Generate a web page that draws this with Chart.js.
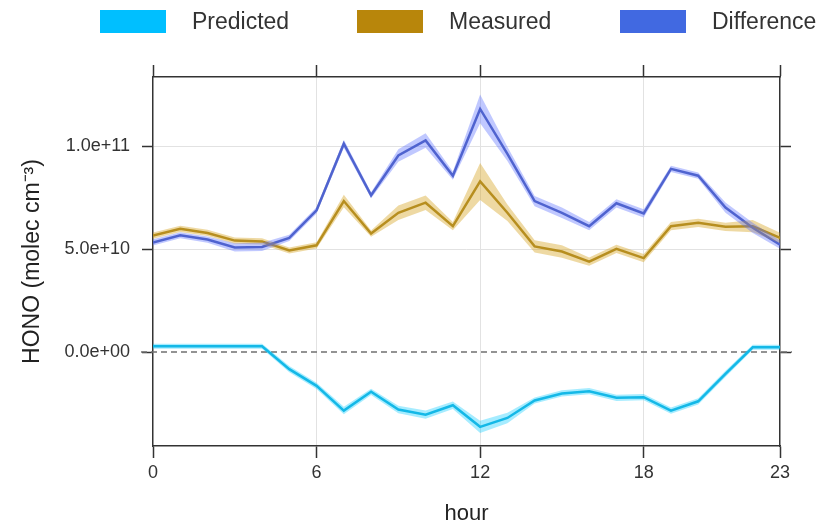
<!DOCTYPE html>
<html>
<head>
<meta charset="utf-8">
<script src="https://cdn.jsdelivr.net/npm/chart.js@4.4.1/dist/chart.umd.min.js"></script>
<style>
  html, body { margin: 0; padding: 0; background: #fff; }
  #wrap { position: relative; width: 825px; height: 524px; font-family: "Liberation Sans", Arial, sans-serif; }
  canvas { position: absolute; left: 0; top: 0; }
  .lg { position: absolute; top: 10px; height: 23px; }
  .lg .box { position: absolute; left: 0; top: 0; width: 66px; height: 23px; }
  .lg .txt { position: absolute; left: 92px; top: 0; line-height: 23px; font-size: 23px; color: #333; white-space: nowrap; }
</style>
</head>
<body>
<div id="wrap">
  <canvas id="c" width="825" height="524"></canvas>
</div>
<script>
// ---- data ----
const hours = [0,1,2,3,4,5,6,7,8,9,10,11,12,13,14,15,16,17,18,19,20,21,22,23];
const predicted  = [0.28e10,0.28e10,0.28e10,0.28e10,0.28e10,-0.83e10,-1.64e10,-2.84e10,-1.93e10,-2.79e10,-3.04e10,-2.58e10,-3.63e10,-3.20e10,-2.35e10,-2.01e10,-1.90e10,-2.22e10,-2.19e10,-2.84e10,-2.39e10,-1.06e10,0.23e10,0.23e10];
const measured   = [5.65e10,5.98e10,5.78e10,5.41e10,5.37e10,4.93e10,5.18e10,7.33e10,5.75e10,6.76e10,7.25e10,6.11e10,8.28e10,6.76e10,5.13e10,4.88e10,4.39e10,5.01e10,4.56e10,6.11e10,6.27e10,6.08e10,6.11e10,5.54e10];
const difference = [5.32e10,5.67e10,5.46e10,5.08e10,5.10e10,5.54e10,6.88e10,10.11e10,7.61e10,9.54e10,10.27e10,8.56e10,11.80e10,9.62e10,7.33e10,6.76e10,6.11e10,7.22e10,6.73e10,8.89e10,8.56e10,7.01e10,6.03e10,5.21e10];
// half-widths of the shaded intervals
const predictedCI  = [0.12e10,0.12e10,0.12e10,0.12e10,0.12e10,0.15e10,0.15e10,0.18e10,0.15e10,0.18e10,0.20e10,0.18e10,0.30e10,0.25e10,0.15e10,0.15e10,0.15e10,0.15e10,0.15e10,0.15e10,0.15e10,0.15e10,0.12e10,0.12e10];
const measuredCI   = [0.15e10,0.15e10,0.15e10,0.15e10,0.15e10,0.15e10,0.15e10,0.30e10,0.15e10,0.35e10,0.35e10,0.20e10,0.90e10,0.40e10,0.30e10,0.30e10,0.20e10,0.20e10,0.20e10,0.20e10,0.20e10,0.20e10,0.30e10,0.25e10];
const differenceCI = [0.15e10,0.15e10,0.15e10,0.20e10,0.20e10,0.15e10,0.15e10,0.20e10,0.15e10,0.30e10,0.35e10,0.20e10,0.70e10,0.35e10,0.25e10,0.25e10,0.20e10,0.20e10,0.20e10,0.15e10,0.15e10,0.25e10,0.25e10,0.20e10];
const seriesNames = ['Predicted','Measured','Difference'];
const xTicks = [0,6,12,18,23];
const yTicks = [0,5e10,1e11];
const xGridAt = [6,12,18];
const yGridAt = [5e10,1e11];
const zeroLineValue = 0;

// ---- styles ----
const legendColors = ['#00BFFF','#B8860B','#4169E1'];
const lineColors   = ['#1fb0da','#a07f1c','#4a5db2'];
const bandColors   = ['rgba(0,200,255,0.35)','rgba(215,165,35,0.42)','rgba(90,110,255,0.38)'];

// ---- legend (HTML) ----
const legendLeft = [100,357,620];
const wrap = document.getElementById('wrap');
seriesNames.forEach((n,i)=>{
  const d = document.createElement('div');
  d.className='lg'; d.style.left = legendLeft[i]+'px';
  d.innerHTML = '<div class="box" style="background:'+legendColors[i]+'"></div><div class="txt">'+n+'</div>';
  wrap.appendChild(d);
});

const pts = (vals)=>hours.map((h,i)=>({x:h,y:vals[i]}));
const band = (vals,ci,sgn)=>hours.map((h,i)=>({x:h,y:vals[i]+sgn*ci[i]}));

const vals = [predicted,measured,difference];
const cis = [predictedCI,measuredCI,differenceCI];
const drawOrder = [2,1,0];
const datasets = [];
drawOrder.forEach(k=>{
  datasets.push({label:seriesNames[k]+' upper', data:band(vals[k],cis[k],1), borderWidth:0, pointRadius:0, fill:'+1', backgroundColor:bandColors[k], tension:0});
  datasets.push({label:seriesNames[k]+' lower', data:band(vals[k],cis[k],-1), borderWidth:0, pointRadius:0, fill:false, tension:0});
});
drawOrder.forEach(k=>{
  datasets.push({label:seriesNames[k], data:pts(vals[k]), borderColor:lineColors[k], borderWidth:2.5, pointRadius:0, fill:false, tension:0});
});

const FONT = '"Liberation Sans", Arial, sans-serif';
const fmtExp = v=>{
  const s = Number(v).toExponential(1);
  const [m,e] = s.split('e');
  const sign = e[0];
  const digits = e.slice(1).padStart(2,'0');
  return m+'e'+sign+digits;
};

const zeroLine = {
  id:'zeroLine',
  beforeDatasetsDraw(chart){
    const {ctx, chartArea} = chart;
    const y = chart.scales.y.getPixelForValue(zeroLineValue);
    ctx.save();
    ctx.strokeStyle = '#707070';
    ctx.lineWidth = 1.5;
    ctx.setLineDash([6,4]);
    ctx.beginPath();
    ctx.moveTo(chartArea.left-12, y);
    ctx.lineTo(chartArea.right+12, y);
    ctx.stroke();
    ctx.restore();
  }
};

const common = {type:'linear', border:{display:true,color:'#333',width:1.5}};

new Chart(document.getElementById('c'), {
  type:'line',
  data:{datasets},
  plugins:[zeroLine],
  options:{
    responsive:false, animation:false, devicePixelRatio:1,
    layout:{padding:0},
    plugins:{legend:{display:false}, tooltip:{enabled:false}},
    scales:{
      x:{...common, position:'bottom', min:0, max:23,
        afterBuildTicks:s=>{s.ticks = xTicks.map(v=>({value:v}));},
        afterFit:s=>{s.height = 78;},
        grid:{color:c=>xGridAt.includes(c.tick && c.tick.value)?'#e2e2e2':'rgba(0,0,0,0)', lineWidth:1, tickColor:'#333', tickLength:12, tickWidth:1.5},
        ticks:{font:{family:FONT,size:18}, color:'#333', padding:4, autoSkip:false, maxRotation:0},
        title:{display:true, text:'hour', font:{family:FONT,size:22}, color:'#222', padding:{top:0,bottom:-3}}
      },
      x2:{...common, axis:'x', position:'top', min:0, max:23,
        afterBuildTicks:s=>{s.ticks = xTicks.map(v=>({value:v}));},
        afterFit:s=>{s.height = 77;},
        grid:{drawOnChartArea:false, tickColor:'#333', tickLength:12, tickWidth:1.5},
        ticks:{display:false}
      },
      y:{...common, position:'left', min:-4.56e10, max:1.335e11,
        afterBuildTicks:s=>{s.ticks = yTicks.map(v=>({value:v}));},
        afterFit:s=>{s.width = 153;},
        grid:{color:c=>yGridAt.includes(c.tick && c.tick.value)?'#e2e2e2':'rgba(0,0,0,0)', lineWidth:1, tickColor:'#333', tickLength:11, tickWidth:1.5},
        ticks:{font:{family:FONT,size:18}, color:'#333', padding:12, callback:v=>fmtExp(v)},
        title:{display:true, text:'HONO (molec cm⁻³)', font:{family:FONT,size:23}, color:'#222', padding:{top:19,bottom:0}}
      },
      y2:{...common, axis:'y', position:'right', min:-4.56e10, max:1.335e11,
        afterBuildTicks:s=>{s.ticks = yTicks.map(v=>({value:v}));},
        afterFit:s=>{s.width = 45;},
        grid:{drawOnChartArea:false, tickColor:'#333', tickLength:11, tickWidth:1.5},
        ticks:{display:false}
      }
    }
  }
});
</script>
</body>
</html>
